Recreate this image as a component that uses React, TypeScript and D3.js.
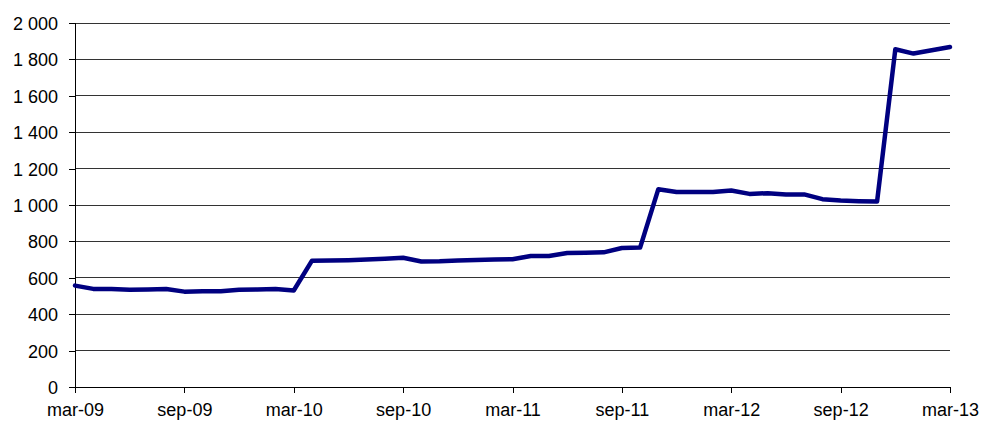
import React, { useEffect, useRef } from 'react';
import * as d3 from 'd3';

// monthly series, mar-09 .. mar-13
const months: string[] = [
  'mar-09', 'apr-09', 'may-09', 'jun-09', 'jul-09', 'aug-09', 'sep-09', 'oct-09', 'nov-09', 'dec-09', 'jan-10', 'feb-10',
  'mar-10', 'apr-10', 'may-10', 'jun-10', 'jul-10', 'aug-10', 'sep-10', 'oct-10', 'nov-10', 'dec-10', 'jan-11', 'feb-11',
  'mar-11', 'apr-11', 'may-11', 'jun-11', 'jul-11', 'aug-11', 'sep-11', 'oct-11', 'nov-11', 'dec-11', 'jan-12', 'feb-12',
  'mar-12', 'apr-12', 'may-12', 'jun-12', 'jul-12', 'aug-12', 'sep-12', 'oct-12', 'nov-12', 'dec-12', 'jan-13', 'feb-13',
  'mar-13',
];

const values: number[] = [
  557, 539, 539, 534, 536, 539, 524, 526, 526, 534, 536, 538,
  530, 694, 695, 697, 700, 705, 710, 690, 691, 695, 698, 700,
  702, 720, 720, 736, 738, 740, 764, 766, 1087, 1071, 1071, 1071,
  1080, 1061, 1065, 1058, 1058, 1032, 1025, 1021, 1019, 1856, 1832, 1850,
  1868,
];

const yTicks: number[] = [0, 200, 400, 600, 800, 1000, 1200, 1400, 1600, 1800, 2000];
const xTickLabels: string[] = ['mar-09', 'sep-09', 'mar-10', 'sep-10', 'mar-11', 'sep-11', 'mar-12', 'sep-12', 'mar-13'];

const App: React.FC = () => {
  const svgRef = useRef<SVGSVGElement | null>(null);

  useEffect(() => {
    if (!svgRef.current) return;
    const width = 982;
    const height = 421;
    const margin = { top: 23, right: 32, bottom: 34, left: 75 };

    const svg = d3.select(svgRef.current);
    svg.selectAll('*').remove();

    const x = d3.scalePoint<string>().domain(months).range([margin.left, width - margin.right]);
    const y = d3.scaleLinear().domain([0, 2000]).range([height - margin.bottom, margin.top]);

    const fmt = (v: number) => d3.format(',')(v).replace(/,/g, ' ');
    const font = 'Arial, "Liberation Sans", sans-serif';

    // gridlines
    svg.append('g')
      .selectAll('line')
      .data(yTicks.filter(d => d > 0))
      .enter()
      .append('line')
      .attr('x1', margin.left).attr('x2', width - margin.right)
      .attr('y1', d => y(d)).attr('y2', d => y(d))
      .attr('stroke', '#333').attr('stroke-width', 1)
      .attr('shape-rendering', 'crispEdges');

    // y axis
    const yAxis = svg.append('g')
      .attr('transform', `translate(${margin.left},0)`)
      .call(d3.axisLeft(y).tickValues(yTicks).tickSize(6).tickPadding(11).tickFormat(d => fmt(d as number)));
    yAxis.select('.domain').attr('stroke', '#000').attr('shape-rendering', 'crispEdges');
    yAxis.selectAll('.tick line').attr('stroke', '#000').attr('shape-rendering', 'crispEdges');
    yAxis.selectAll('.tick text')
      .attr('font-family', font).attr('font-size', 18).attr('fill', '#000').attr('dy', '0.36em');

    // x axis
    const xAxis = svg.append('g')
      .attr('transform', `translate(0,${y(0)})`)
      .call(d3.axisBottom(x).tickValues(xTickLabels).tickSize(6).tickPadding(10).tickSizeOuter(0));
    xAxis.select('.domain').attr('stroke', '#000').attr('shape-rendering', 'crispEdges');
    xAxis.selectAll('.tick line').attr('stroke', '#000').attr('shape-rendering', 'crispEdges');
    xAxis.selectAll('.tick text')
      .attr('font-family', font).attr('font-size', 18).attr('fill', '#000').attr('dy', '0.71em');

    // series line
    const line = d3.line<number>()
      .x((_, i) => x(months[i]) as number)
      .y(d => y(d));

    svg.append('path')
      .datum(values)
      .attr('d', line)
      .attr('fill', 'none')
      .attr('stroke', '#000080')
      .attr('stroke-width', 4.5)
      .attr('stroke-linejoin', 'round')
      .attr('stroke-linecap', 'round');
  }, []);

  return (
    <div style={{ position: 'absolute', left: 0, top: 0, background: '#fff' }}>
      <svg ref={svgRef} width={982} height={421} style={{ display: 'block' }}></svg>
    </div>
  );
};

export default App;
